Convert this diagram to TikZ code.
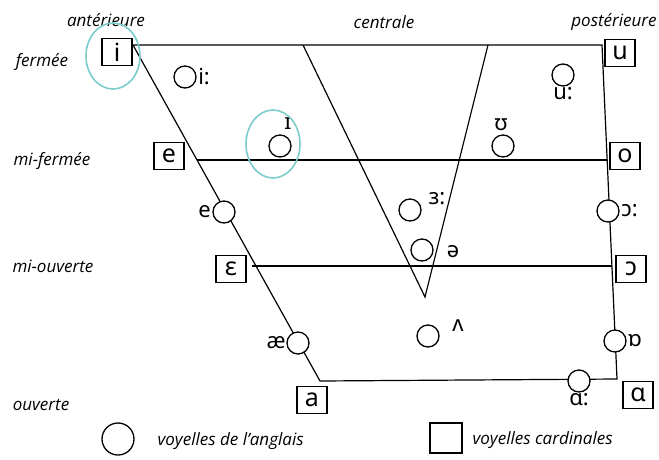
\documentclass[tikz,border=0pt]{standalone}
\usepackage{fontspec}
\setmainfont{Open Sans}
\newfontfamily\ipafont{Noto Sans}
\begin{document}
\begin{tikzpicture}[x=1pt,y=-1pt,line width=1.2pt,
  card/.style={draw,line width=1.2pt,minimum width=30pt,minimum height=27pt,inner sep=0pt,font=\ipafont\fontsize{25}{25}\selectfont},
  eng/.style={draw,circle,fill=white,line width=1.3pt,minimum size=22pt,inner sep=0pt},
  sym/.style={font=\ipafont\fontsize{22}{22}\selectfont,inner sep=1pt},
  axis/.style={font=\itshape\fontsize{17}{18}\selectfont,inner sep=0pt},
  hilite/.style={draw={rgb,255:red,125;green,203;blue,203},line width=1.6pt}]
\useasboundingbox (0,0) rectangle (659,459);

% Corners of the chart
\coordinate (tl) at (133,45);
\coordinate (tr) at (602,45);
\coordinate (bl) at (320,381);
\coordinate (br) at (617,379);
\coordinate (mfl) at (197,160);
\coordinate (mfr) at (607,160);
\coordinate (mol) at (252,266);
\coordinate (mor) at (612,266);
\coordinate (cl) at (303,45);
\coordinate (cr) at (488,45);
\coordinate (apex) at (425,297);

% Outline and grid
\draw (tl) -- (tr) -- (br) -- (bl) -- cycle;
\draw (mfl) -- (mfr);
\draw (mol) -- (mor);
\draw (cl) -- (apex) -- (cr);

% Headings
\node[axis] (ant) at (106,20) {antérieure};
\node[axis] (cen) at (384,22) {centrale};
\node[axis] (post) at (614,22) {postérieure};
\node[axis] (ferm) at (42,62) {fermée};
\node[axis] (mferm) at (52,161) {mi-fermée};
\node[axis] (mouv) at (53,266) {mi-ouverte};
\node[axis] (ouv) at (41,405) {ouverte};

% Cardinal vowels
\node[card] (ci) at (117,52) {i};
\node[card] (cu) at (620,53) {u};
\node[card] (ce) at (169,156) {e};
\node[card] (co) at (625,156) {o};
\node[card] (ceps) at (231,269) {ɛ};
\node[card] (copen) at (631,269) {ɔ};
\node[card] (ca) at (312,400) {a};
\node[card] (calpha) at (638,395) {ɑ};

% English vowels
\node[eng] (ii) at (185,77) {};
\node[sym,right] at (ii.east) {i:};
\node[eng] (ismall) at (280,146) {};
\node[sym] at (288,124) {ɪ};
\node[eng] (usmall) at (503,146) {};
\node[sym] at (501,125) {ʊ};
\node[eng] (uu) at (563,75) {};
\node[sym,below,inner sep=0pt] at (uu.south) {u:};
\node[eng] (er) at (410,210) {};
\node[sym] at (437,199) {ɜ:};
\node[eng] (schwa) at (422,250) {};
\node[sym] at (453,252) {ə};
\node[eng] (wedge) at (428,336) {};
\node[sym] at (458,326) {ʌ};
\node[eng] (ee) at (224,212) {};
\node[sym,left] at (ee.west) {e};
\node[eng] (ae) at (298,343) {};
\node[sym,left,inner sep=0pt] at (ae.west) {æ};
\node[eng] (oo) at (608,211) {};
\node[sym,right] at (oo.east) {ɔ:};
\node[eng] (orot) at (615,341) {};
\node[sym,right] at (orot.east) {ɒ};
\node[eng] (aa) at (579,381) {};
\node[sym,below,inner sep=0pt] at (aa.south) {ɑ:};

% Highlights
\draw[hilite] (113,56) ellipse (27 and 33);
\draw[hilite] (273,144) ellipse (27 and 34);

% Legend
\node[draw,circle,line width=1.3pt,minimum size=32pt,inner sep=0pt] (legeng) at (118,439) {};
\node[axis,right] at (157,441) {voyelles de l'anglais};
\node[draw,line width=1.3pt,minimum width=32pt,minimum height=30pt,inner sep=0pt] (legcard) at (446,438) {};
\node[axis,right] at (472,440) {voyelles cardinales};
\end{tikzpicture}
\end{document}
